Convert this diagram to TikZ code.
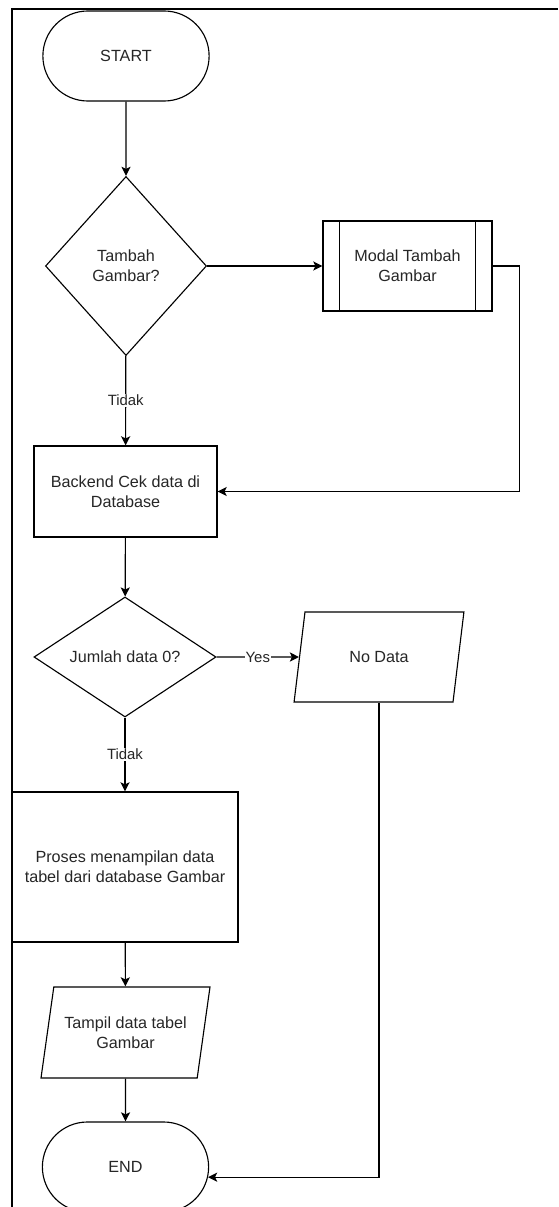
\documentclass[tikz,border=0pt]{standalone}
\usepackage{fontspec}
\setmainfont{Liberation Sans}
\usepackage{tikz}
\usetikzlibrary{shapes.geometric,shapes.misc,arrows.meta}

\tikzset{
  flow/.style={draw, line width=0.8pt, text=black!85, align=center, inner sep=1pt,
               font=\fontsize{11.5}{14}\selectfont},
  terminal/.style={flow, rounded rectangle, minimum width=4.225cm, minimum height=2.25cm},
  decision/.style={flow, diamond},
  process/.style={flow, rectangle},
  iobox/.style={flow, trapezium, trapezium left angle=72, trapezium right angle=108,
                trapezium stretches=true},
  conn/.style={->, line width=0.8pt},
  lbl/.style={fill=white, inner sep=0.5pt, text=black!85, font=\fontsize{10.6}{12}\selectfont}
}

\begin{document}
\begin{tikzpicture} [>={Stealth[length=6.5pt,width=6.5pt,inset=1.5pt]}, x=0.025cm, y=-0.025cm]
          \useasboundingbox (0,0) rectangle (558,1207);
          % FRAME
          \draw[line width=1.3pt] (12,1207) -- (12,9) -- (558,9);

                  % NODES
                  \node[terminal] (start) at (126,56) {START};
                  \node[decision, minimum width=4.025cm, minimum height=4.475cm, aspect=0.9] (tambah) at (126,266) {Tambah\\Gambar?};
                  \node[process, minimum width=4.225cm, minimum height=2.25cm] (modal) at (407.5,266) {Modal Tambah\\Gambar};
                  \node[process, minimum width=4.575cm, minimum height=2.275cm] (backend) at (125.5,491.5) {Backend Cek data di\\Database};
                  \node[decision, minimum width=4.55cm, minimum height=3cm, aspect=1.5] (jumlah) at (125,657) {Jumlah data 0?};
                  \node[iobox, minimum width=4.25cm, minimum height=2.25cm] (nodata) at (379,657) {No Data};
                  \node[process, minimum width=5.65cm, minimum height=3.75cm] (proses) at (125,867) {Proses menampilan data\\tabel dari database Gambar};
                  \node[iobox, minimum width=4.225cm, minimum height=2.275cm] (tampil) at (125.5,1032.5) {Tampil data tabel\\Gambar};
                  \node[terminal] (end) at (125.5,1167) {END};

                  % side bars of the predefined process
                  \draw[line width=0.8pt] ([xshift=0.425cm]modal.north west) -- ([xshift=0.425cm]modal.south west);
                  \draw[line width=0.8pt] ([xshift=-0.425cm]modal.north east) -- ([xshift=-0.425cm]modal.south east);

                  % LINES:
		  \draw[conn] (start) -- (tambah);
		  \draw[conn] (tambah) -- (modal);
		  \draw[conn] (modal.east) -- ++(27,0) |- (backend.east);
		  \draw[conn] (tambah) -- (backend) node[midway, lbl]{Tidak};
		  \draw[conn] (backend) -- (jumlah);
		  \draw[conn] (jumlah) -- (nodata) node[midway, lbl]{Yes};
		  \draw[conn] (jumlah) -- (proses) node[midway, lbl]{Tidak};
		  \draw[conn] (proses) -- (tampil);
		  \draw[conn] (tampil) -- (end);
		  \draw[conn] (nodata.south) |- (end.-7.5);
		\end{tikzpicture}
\end{document}
